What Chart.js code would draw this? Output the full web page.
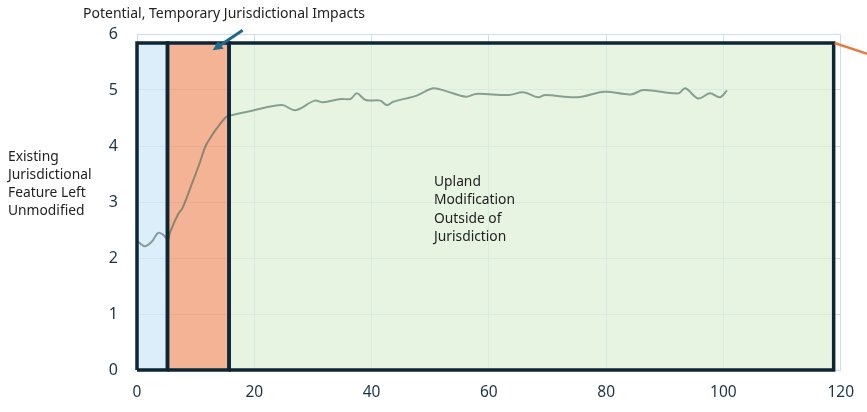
<!DOCTYPE html>
<html>
<head>
<meta charset="utf-8">
<script src="https://cdn.jsdelivr.net/npm/chart.js@4.4.1/dist/chart.umd.min.js"></script>
<style>
  body { margin: 0; background: #fff; }
  #wrap { width: 867px; height: 412px; }
</style>
</head>
<body>
<div id="wrap"><canvas id="siteChart"></canvas></div>
<script>
// ground profile
const profileX = [0.2, 1.35, 2.5, 3.6, 4.4, 5.3, 5.6, 7.0, 7.8, 9.2, 10.6, 11.7, 12.6, 13.5, 15.1, 15.7, 19.6, 24.7, 27.0, 30.3, 31.7, 34.8, 36.4, 37.5, 39.0, 41.5, 42.6, 43.7, 47.7, 50.5, 52.7, 56.1, 57.8, 63.4, 65.9, 68.4, 69.6, 75.1, 79.7, 84.2, 86.4, 92.3, 93.5, 95.7, 97.7, 99.4, 100.6];
const profileY = [2.29, 2.21, 2.29, 2.45, 2.42, 2.33, 2.45, 2.78, 2.90, 3.28, 3.67, 4.00, 4.16, 4.30, 4.51, 4.54, 4.63, 4.73, 4.64, 4.81, 4.78, 4.84, 4.84, 4.94, 4.82, 4.81, 4.73, 4.79, 4.90, 5.03, 4.98, 4.88, 4.93, 4.91, 4.96, 4.87, 4.91, 4.87, 4.97, 4.92, 5.00, 4.94, 5.03, 4.85, 4.94, 4.87, 4.99];

// shaded zones
const regionStart = [0, 5.2, 15.7];
const regionEnd = [5.2, 15.7, 118.8];
const regionTop = 5.84;
const regionFill = ["rgba(206,231,248,0.72)", "rgba(241,160,121,0.8)", "rgba(222,240,215,0.72)"];

const xTickValues = [0, 20, 40, 60, 80, 100, 120];
const yTickValues = [0, 1, 2, 3, 4, 5, 6];

const textFont = '"Noto Sans", sans-serif';
const darkEdge = "#0c2636";

let datasets = [];

regionStart.forEach((s, i) => {
  datasets.push({
    label: "zone fill " + i,
    data: [{ x: s, y: regionTop }, { x: regionEnd[i], y: regionTop }],
    showLine: true,
    fill: "origin",
    backgroundColor: regionFill[i],
    borderWidth: 0,
    pointRadius: 0,
    order: 3,
  });
  datasets.push({
    label: "zone edge " + i,
    data: [
      { x: s, y: 0 },
      { x: s, y: regionTop },
      { x: regionEnd[i], y: regionTop },
      { x: regionEnd[i], y: 0 },
      { x: s, y: 0 },
    ],
    showLine: true,
    fill: false,
    borderColor: darkEdge,
    borderWidth: 3.5,
    borderJoinStyle: "miter",
    pointRadius: 0,
    clip: 6,
    order: 1,
  });
});

datasets.push({
  label: "profile",
  data: profileX.map((x, i) => ({ x: x, y: profileY[i] })),
  showLine: true,
  fill: false,
  borderColor: "rgba(70,105,90,0.6)",
  borderWidth: 2,
  tension: 0.35,
  pointRadius: 0,
  order: 2,
});

// labels and arrows
const notes = {
  id: "notes",
  afterDraw(chart) {
    const ctx = chart.ctx;
    const xs = chart.scales.x;
    const ys = chart.scales.y;
    ctx.save();
    ctx.fillStyle = "#222";
    ctx.font = "14px " + textFont;
    ctx.textBaseline = "middle";
    ctx.textAlign = "left";
    ctx.fillText("Potential, Temporary Jurisdictional Impacts", 83, 14);

    ctx.font = "13.8px " + textFont;
    const leftLines = ["Existing", "Jurisdictional", "Feature Left", "Unmodified"];
    leftLines.forEach((t, i) => ctx.fillText(t, 8, 157 + i * 18));

    const midLines = ["Upland", "Modification", "Outside of", "Jurisdiction"];
    midLines.forEach((t, i) => ctx.fillText(t, 434, 182 + i * 18.3));

    // blue arrow pointing into the temporary zone
    const tipX = xs.getPixelForValue(12.9);
    const tipY = ys.getPixelForValue(5.71);
    const tailX = tipX + 30, tailY = tipY - 20;
    ctx.strokeStyle = "#1f6a8a";
    ctx.fillStyle = "#1f6a8a";
    ctx.lineWidth = 3;
    ctx.beginPath();
    ctx.moveTo(tailX, tailY);
    ctx.lineTo(tipX + 8, tipY - 5.3);
    ctx.stroke();
    const ang = Math.atan2(tipY - tailY, tipX - tailX);
    ctx.beginPath();
    ctx.moveTo(tipX, tipY);
    ctx.lineTo(tipX - 11 * Math.cos(ang - 0.45), tipY - 11 * Math.sin(ang - 0.45));
    ctx.lineTo(tipX - 11 * Math.cos(ang + 0.45), tipY - 11 * Math.sin(ang + 0.45));
    ctx.closePath();
    ctx.fill();

    // orange leader off the right corner
    const cx = xs.getPixelForValue(regionEnd[2]);
    const cy = ys.getPixelForValue(regionTop);
    ctx.strokeStyle = "#e87a3c";
    ctx.lineWidth = 2.5;
    ctx.beginPath();
    ctx.moveTo(cx + 1, cy);
    ctx.lineTo(cx + 40, cy + 13);
    ctx.stroke();
    ctx.restore();
  },
};

new Chart(document.getElementById("siteChart"), {
  type: "scatter",
  data: { datasets: datasets },
  options: {
    responsive: true,
    maintainAspectRatio: false,
    animation: false,
    layout: { padding: { top: 34, right: 23, left: 0, bottom: 0 } },
    plugins: {
      legend: { display: false },
      tooltip: { enabled: false },
    },
    scales: {
      x: {
        type: "linear",
        min: 0,
        max: 120,
        afterBuildTicks: (axis) => { axis.ticks = xTickValues.map((v) => ({ value: v })); },
        afterFit: (axis) => { axis.height = 42; },
        grid: { color: "#c9ddf3", lineWidth: 1, drawTicks: false },
        border: { color: "#c9ddf3" },
        ticks: { padding: 13, color: "#1b3347", font: { family: textFont, size: 15.5 } },
      },
      y: {
        type: "linear",
        min: 0,
        max: 6,
        afterBuildTicks: (axis) => { axis.ticks = yTickValues.map((v) => ({ value: v })); },
        afterFit: (axis) => { axis.width = 137; },
        grid: { color: "#c9ddf3", lineWidth: 1, drawTicks: false },
        border: { color: "#c9ddf3" },
        ticks: { padding: 19, color: "#1b3347", font: { family: textFont, size: 16 } },
      },
    },
  },
  plugins: [notes],
});
</script>
</body>
</html>
